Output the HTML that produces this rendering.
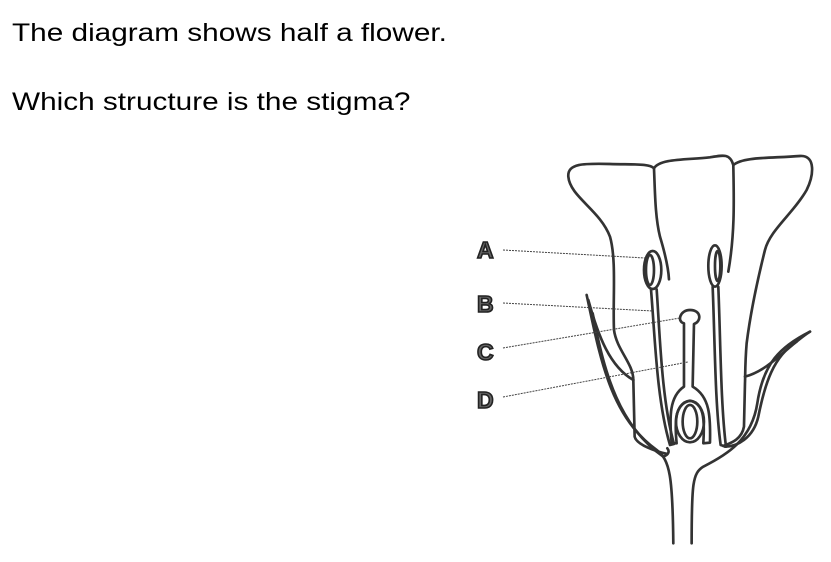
<!DOCTYPE html>
<html><head><meta charset="utf-8"><style>
html,body{margin:0;padding:0;background:#fff;width:831px;height:562px;overflow:hidden;position:relative}
.t{position:absolute;left:12px;font-family:"Liberation Sans",sans-serif;font-size:25px;color:#000;white-space:nowrap;line-height:1;transform:scaleX(1.19);transform-origin:0 0}
</style></head><body>
<div class="t" style="top:21px">The diagram shows half a flower.</div>
<div class="t" style="top:90px">Which structure is the stigma?</div>
<svg width="831" height="562" style="position:absolute;left:0;top:0">
<g transform="translate(470,150) scale(0.3333)" fill="none" stroke="#333" stroke-width="8" stroke-linecap="round" stroke-linejoin="round">
<path d="M490,690 C490,640 440,600 432,540 C428,450 440,330 420,260 C390,180 300,140 295,80 C292,40 340,40 420,42 C490,44 540,40 552,55 C570,25 650,30 720,22 C760,15 780,10 790,45 C820,20 900,25 990,18 C1040,15 1030,80 1010,120 C970,190 900,240 885,300 C860,400 840,500 830,580 C825,640 826,680 825,700 L822,830 C815,870 780,880 760,888"/>
<path d="M490,690 L494,860 C500,885 560,905 592,912"/>
<path d="M552,55 C555,120 555,200 570,260 C585,310 595,350 597,388"/>
<path d="M790,45 C792,150 795,250 775,365"/>
<path d="M350,435 C390,620 420,800 560,900 C600,930 608,980 610,1180"/>
<path d="M355,450 C385,560 420,650 490,690"/>
<path d="M368,490 C405,680 450,830 580,920 C595,915 600,905 592,895"/>
<path d="M1020,545 C930,590 880,640 862,760 C845,870 770,915 700,950 C668,970 665,1000 665,1180"/>
<path d="M1020,545 C950,590 900,660 825,680"/>
<path d="M980,575 C910,620 885,700 865,800 C850,865 800,890 765,890"/>
<ellipse cx="548" cy="360" rx="26" ry="57"/>
<ellipse cx="540" cy="360" rx="12" ry="45"/>
<path d="M543,418 C555,560 560,750 600,885 L612,882 C575,750 570,560 560,418"/>
<ellipse cx="735" cy="348" rx="20" ry="62"/>
<ellipse cx="743" cy="348" rx="8" ry="45"/>
<path d="M728,410 C735,580 735,760 752,885 L768,890 C752,760 752,580 745,410"/>
<path d="M642,520 C620,515 630,480 660,480 C695,480 695,515 672,522 L668,710 C720,740 722,800 720,878 L700,880 C705,800 700,760 660,752 C620,760 612,800 620,880 L605,880 C598,800 598,740 642,710 Z"/>
<ellipse cx="660" cy="815" rx="42" ry="62"/>
<ellipse cx="660" cy="815" rx="22" ry="50"/>
</g>
<g stroke="#444" stroke-width="1" stroke-dasharray="2,1">
<line x1="503" y1="250" x2="645" y2="258"/>
<line x1="503" y1="303" x2="653" y2="311"/>
<line x1="503" y1="348" x2="680" y2="318"/>
<line x1="503" y1="397" x2="688" y2="362"/>
</g>
<g font-family="Liberation Sans,sans-serif" font-size="23" fill="#666" stroke="#222" stroke-width="1.6" font-weight="bold">
<text x="477" y="258">A</text>
<text x="477" y="312">B</text>
<text x="477" y="360">C</text>
<text x="477" y="408">D</text>
</g>
</svg>
</body></html>
